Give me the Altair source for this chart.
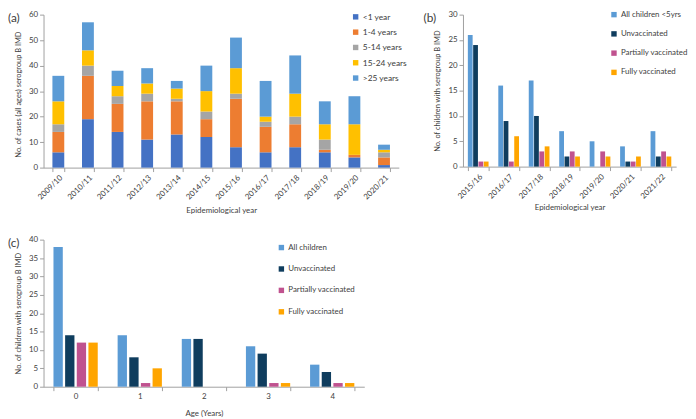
import altair as alt
import pandas as pd

# ---------------- Panel (a) data ----------------
years_a = ["2009/10", "2010/11", "2011/12", "2012/13", "2013/14", "2014/15",
           "2015/16", "2016/17", "2017/18", "2018/19", "2019/20", "2020/21"]
age_groups = ["<1 year", "1-4 years", "5-14 years", "15-24 years", ">25 years"]
lt1 = [6, 19, 14, 11, 13, 12, 8, 6, 8, 6, 4, 1]
y1_4 = [8, 17, 11, 15, 13, 7, 19, 10, 9, 1, 1, 3]
y5_14 = [3, 4, 3, 3, 1, 3, 2, 2, 3, 4, 0, 2]
y15_24 = [9, 6, 4, 4, 4, 8, 10, 2, 9, 6, 12, 1]
gt25 = [10, 11, 6, 6, 3, 10, 12, 14, 15, 9, 11, 2]
colors_a = ["#4472C4", "#ED7D31", "#A5A5A5", "#FFC000", "#5B9BD5"]

# ---------------- Panel (b) data ----------------
years_b = ["2015/16", "2016/17", "2017/18", "2018/19", "2019/20", "2020/21", "2021/22"]
groups_b = ["All children <5yrs", "Unvaccinated", "Partially vaccinated", "Fully vaccinated"]
all_b = [26, 16, 17, 7, 5, 4, 7]
unvac_b = [24, 9, 10, 2, 0, 1, 2]
partial_b = [1, 1, 3, 3, 3, 1, 3]
fully_b = [1, 6, 4, 2, 2, 2, 2]

# ---------------- Panel (c) data ----------------
ages_c = ["0", "1", "2", "3", "4"]
groups_c = ["All children", "Unvaccinated", "Partially vaccinated", "Fully vaccinated"]
all_c = [38, 14, 13, 11, 6]
unvac_c = [14, 8, 13, 9, 4]
partial_c = [12, 1, 0, 1, 1]
fully_c = [12, 5, 0, 1, 1]

colors_bc = ["#5B9BD5", "#0F3D5E", "#C0528F", "#FFA500"]

FONT = "Lato"
TXT = "#404040"
AX = "#A0A0A0"

# Build tables
rows_a = []
for series, name in zip([lt1, y1_4, y5_14, y15_24, gt25], age_groups):
    for yr, v in zip(years_a, series):
        rows_a.append({"year": yr, "age": name, "idx": age_groups.index(name), "count": v})
df_a = pd.DataFrame(rows_a)

rows_b = []
for series, name in zip([all_b, unvac_b, partial_b, fully_b], groups_b):
    for yr, v in zip(years_b, series):
        rows_b.append({"year": yr, "group": name, "count": v})
df_b = pd.DataFrame(rows_b)

rows_c = []
for series, name in zip([all_c, unvac_c, partial_c, fully_c], groups_c):
    for ag, v in zip(ages_c, series):
        rows_c.append({"age": ag, "group": name, "count": v})
df_c = pd.DataFrame(rows_c)


def x_axis(title, angle, tpad):
    return alt.Axis(title=title, labelAngle=angle, tickBand="extent", tickSize=4,
                    domainColor=AX, tickColor=AX, labelColor=TXT, titleColor=TXT,
                    labelFontSize=8, titleFontSize=8, titleFontWeight="normal",
                    labelPadding=2, titlePadding=tpad)


def y_axis(title, values, fs, ty):
    return alt.Axis(title=title, values=values, grid=False, tickSize=4,
                    domainColor=AX, tickColor=AX, labelColor=TXT, titleColor=TXT,
                    labelFontSize=8, titleFontSize=fs, titleFontWeight="normal",
                    labelPadding=2, titlePadding=6, titleY=ty)


def legend(x, y, rowpad, fs):
    return alt.Legend(title=None, orient="none", legendX=x, legendY=y,
                      symbolType="square", symbolSize=30, symbolStrokeWidth=0,
                      symbolOpacity=1, labelFontSize=fs, labelColor=TXT,
                      rowPadding=rowpad, labelOffset=3)


def panel_title(txt, dx):
    return alt.TitleParams(txt, anchor="start", frame="group", dx=dx,
                           offset=-14, fontSize=12, fontWeight="normal", color=TXT)


HA, HB, HC = 155, 154, 149

a = alt.Chart(df_a).mark_bar().encode(
    x=alt.X("year:N", sort=years_a,
            scale=alt.Scale(paddingInner=0.6, paddingOuter=0.3),
            axis=x_axis("Epidemiological year", -45, 6)),
    y=alt.Y("count:Q", stack="zero", scale=alt.Scale(domain=[0, 60], nice=False),
            axis=y_axis("No. of cases (all ages) serogroup B IMD",
                        [0, 10, 20, 30, 40, 50, 60], 7.5, HA / 2 + 3)),
    color=alt.Color("age:N", scale=alt.Scale(domain=age_groups, range=colors_a),
                    legend=legend(312, -2, 6.5, 8.5)),
    order=alt.Order("idx:Q", sort="ascending"),
).properties(width=360, height=HA, title=panel_title("(a)", -36))

b = alt.Chart(df_b).mark_bar().encode(
    x=alt.X("year:N", sort=years_b,
            scale=alt.Scale(paddingInner=0.32, paddingOuter=0.16),
            axis=x_axis("Epidemiological year", -45, 4)),
    xOffset=alt.XOffset("group:N", sort=groups_b, scale=alt.Scale(paddingInner=0.1)),
    y=alt.Y("count:Q", scale=alt.Scale(domain=[0, 30], nice=False),
            axis=y_axis("No. of children with serogroup B IMD",
                        [0, 5, 10, 15, 20, 25, 30], 7.5, HB / 2)),
    color=alt.Color("group:N", scale=alt.Scale(domain=groups_b, range=colors_bc),
                    legend=legend(149, -4, 11.5, 8)),
).properties(width=216, height=HB, title=panel_title("(b)", -40))

c = alt.Chart(df_c).mark_bar().encode(
    x=alt.X("age:N", sort=ages_c,
            scale=alt.Scale(paddingInner=0.31, paddingOuter=0.155),
            axis=x_axis("Age (Years)", 0, 9)),
    xOffset=alt.XOffset("group:N", sort=groups_c, scale=alt.Scale(paddingInner=0.2)),
    y=alt.Y("count:Q", scale=alt.Scale(domain=[0, 40], nice=False),
            axis=y_axis("No. of children with serogroup B IMD",
                        [0, 5, 10, 15, 20, 25, 30, 35, 40], 7.5, HC / 2)),
    color=alt.Color("group:N", scale=alt.Scale(domain=groups_c, range=colors_bc),
                    legend=legend(237, 4, 13.7, 8)),
).properties(width=325, height=HC, title=panel_title("(c)", -36))

top = alt.hconcat(a, b, spacing=65, bounds="flush").resolve_scale(
    color="independent", xOffset="independent", x="independent", y="independent")
chart = alt.vconcat(top, c, spacing=21).resolve_scale(
    color="independent", xOffset="independent", x="independent", y="independent"
).properties(
    padding=0, autosize=alt.AutoSizeParams(type="pad")
).configure(font=FONT).configure_view(stroke=None)

chart.save("out.html", embed_options={"renderer": "svg", "actions": False})
